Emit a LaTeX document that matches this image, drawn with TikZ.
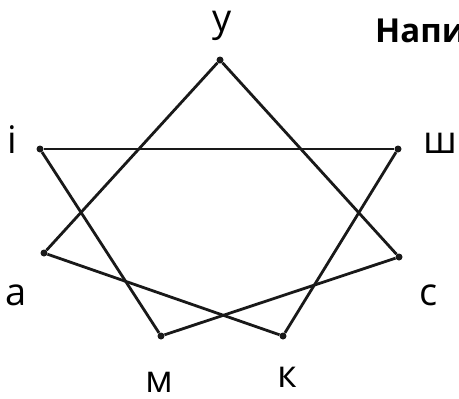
\documentclass[tikz,border=0pt]{standalone}
\usepackage{fontspec}
\setmainfont{Open Sans}
\usetikzlibrary{positioning}

\begin{document}
\begin{tikzpicture}[x=1pt, y=-1pt,
    dot/.style={circle, fill=black!90, inner sep=0pt, minimum size=7pt},
    letter/.style={anchor=base, inner sep=0pt, font=\fontsize{38}{40}\selectfont},
    edge/.style={line width=2.8pt, black!90}]
    \useasboundingbox (0,0) rectangle (459,399);
    \node[dot] (u) at (220,60) {};
    \node[dot] (i) at (40,149) {};
    \node[dot] (sh) at (398,149) {};
    \node[dot] (a) at (44,253) {};
    \node[dot] (s) at (399,257) {};
    \node[dot] (m) at (161,336) {};
    \node[dot] (k) at (283,336) {};

    \node[letter] (lu) at (222,31) {у};
    \node[letter, anchor=base west, font=\fontsize{33}{35}\selectfont\bfseries] (title) at (375,42) {Напи};
    \node[letter] (li) at (12,153) {і};
    \node[letter] (lsh) at (440,153) {ш};
    \node[letter] (la) at (16,305) {а};
    \node[letter] (ls) at (429,305) {с};
    \node[letter] (lm) at (159,392) {м};
    \node[letter] (lk) at (287,387) {к};

    \draw[edge] (u) -- (a);
    \draw[edge] (u) -- (s);
    \draw[edge] (i) -- (sh);
    \draw[edge] (i) -- (m);
    \draw[edge] (sh) -- (k);
    \draw[edge] (a) -- (k);
    \draw[edge] (m) -- (s);
\end{tikzpicture}
\end{document}
